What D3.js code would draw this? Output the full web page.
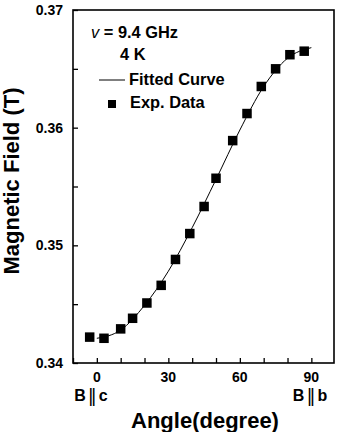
<!DOCTYPE html>
<style>
body { margin: 0; background: #fff; }
text { font-family: Arial, "Liberation Sans", sans-serif; }
</style>
<svg width="343" height="432"></svg>
<script src="https://cdn.jsdelivr.net/npm/d3@7"></script>
<script>

// experimental points (angle in degree, field in T)
var expAngle = [-3, 3, 10, 15, 21, 27, 33, 39, 45, 50, 57, 63, 69, 75, 81, 87];
var expField = [0.3422, 0.3421, 0.3429, 0.3438, 0.3451, 0.3466, 0.3488, 0.3510, 0.3533, 0.3557, 0.3589, 0.3612, 0.3635, 0.3650, 0.3662, 0.3665];

// fitted curve
var fitAngle = [0, 10, 20, 30, 40, 50, 60, 70, 80, 90];
var fitField = [0.3421, 0.3428, 0.3449, 0.3478, 0.3515, 0.3556, 0.3598, 0.3635, 0.3659, 0.3668];

var xTicks = [-10, 0, 10, 20, 30, 40, 50, 60, 70, 80, 90];
var xLabels = [0, 30, 60, 90];
var yTicks = [0.34, 0.345, 0.35, 0.355, 0.36, 0.365, 0.37];
var yLabels = [0.34, 0.35, 0.36, 0.37];

var svg = d3.select("svg"),
    margin = {top: 10, right: 9, bottom: 69, left: 73},
    width = +svg.attr("width") - margin.left - margin.right,
    height = +svg.attr("height") - margin.top - margin.bottom,
    g = svg.append("g").attr("transform", "translate(" + margin.left + "," + margin.top + ")");

var x = d3.scaleLinear().domain([-10, 99.5]).range([0, width]);
var y = d3.scaleLinear().domain([0.34, 0.37]).range([height, 0]);

// inward ticks
g.append("g")
    .attr("transform", "translate(0," + height + ")")
    .call(d3.axisBottom(x).tickValues(xTicks).tickSize(-5).tickFormat(""))
    .call(function(s) { s.select(".domain").remove(); s.selectAll("line").attr("stroke-width", 1.3); });

g.append("g")
    .call(d3.axisLeft(y).tickValues(yTicks).tickSize(-5).tickFormat(""))
    .call(function(s) { s.select(".domain").remove(); s.selectAll("line").attr("stroke-width", 1.3); });

g.append("rect")
    .attr("width", width).attr("height", height)
    .attr("fill", "none").attr("stroke", "#000").attr("stroke-width", 1.6);

// tick labels
g.selectAll(".xl").data(xLabels).enter().append("text")
    .attr("x", function(d) { return x(d); })
    .attr("y", height + 19)
    .attr("text-anchor", "middle")
    .attr("font-size", 14).attr("font-weight", "bold")
    .text(function(d) { return d; });

g.selectAll(".yl").data(yLabels).enter().append("text")
    .attr("x", -10)
    .attr("y", function(d) { return y(d); })
    .attr("dy", "0.35em")
    .attr("text-anchor", "end")
    .attr("font-size", 14).attr("font-weight", "bold")
    .text(function(d) { return d.toFixed(2); });

// fitted curve
var line = d3.line()
    .x(function(d, i) { return x(fitAngle[i]); })
    .y(function(d) { return y(d); })
    .curve(d3.curveMonotoneX);

g.append("path")
    .datum(fitField)
    .attr("d", line)
    .attr("fill", "none")
    .attr("stroke", "#000")
    .attr("stroke-width", 1);

// data squares
var s = 9.5;
g.selectAll(".pt").data(expField).enter().append("rect")
    .attr("x", function(d, i) { return x(expAngle[i]) - s / 2; })
    .attr("y", function(d) { return y(d) - s / 2; })
    .attr("width", s).attr("height", s)
    .attr("fill", "#000");

// legend
var leg = svg.append("g").attr("font-size", 16.4).attr("font-weight", "bold");
var t1 = leg.append("text").attr("x", 91).attr("y", 38);
t1.append("tspan").attr("font-style", "italic").attr("font-weight", "normal").text("v");
t1.append("tspan").text(" = 9.4 GHz");
leg.append("text").attr("x", 120).attr("y", 60).text("4 K");
leg.append("line").attr("x1", 99).attr("x2", 125).attr("y1", 80).attr("y2", 80)
    .attr("stroke", "#000").attr("stroke-width", 1);
leg.append("text").attr("x", 129).attr("y", 85).text("Fitted Curve");
leg.append("rect").attr("x", 108).attr("y", 100).attr("width", 8).attr("height", 8).attr("fill", "#000");
leg.append("text").attr("x", 130).attr("y", 108).text("Exp. Data");

// B||c , B||b
function para(cx, letter) {
  var t = svg.append("text").attr("x", cx).attr("y", 401).attr("text-anchor", "middle")
      .attr("font-size", 16).attr("font-weight", "bold");
  t.append("tspan").text("B");
  t.append("tspan").attr("font-family", "DejaVu Sans").attr("font-weight", "normal")
      .attr("font-size", 18).attr("dx", 2).attr("dy", 1).text("\u2016");
  t.append("tspan").attr("dx", 2).attr("dy", -1).text(letter);
}
para(91, "c");
para(310, "b");

// axis titles
svg.append("text")
    .attr("transform", "translate(19,181) rotate(-90)")
    .attr("text-anchor", "middle")
    .attr("font-size", 22).attr("font-weight", "bold")
    .text("Magnetic Field (T)");

svg.append("text")
    .attr("x", 205).attr("y", 428)
    .attr("text-anchor", "middle")
    .attr("font-size", 22).attr("font-weight", "bold")
    .text("Angle(degree)");

</script>
